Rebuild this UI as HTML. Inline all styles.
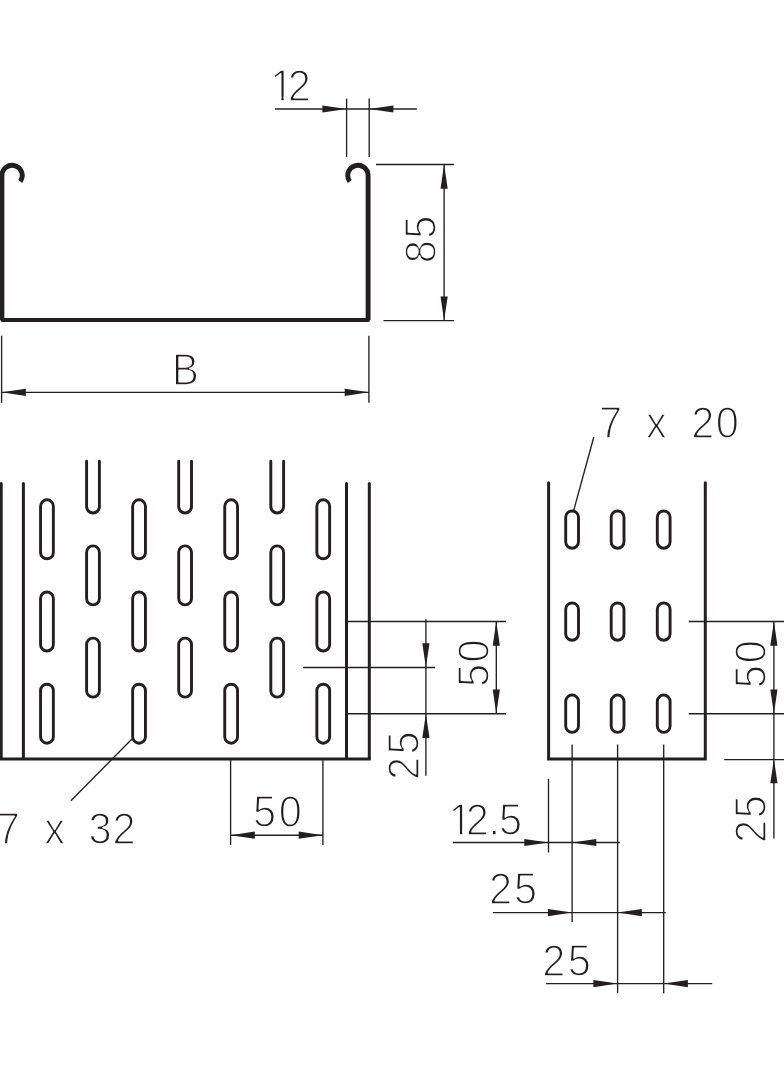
<!DOCTYPE html>
<html lang="en">
<head>
<meta charset="utf-8">
<title>Cable tray dimension drawing</title>
<style>
html,body{margin:0;padding:0;background:#fff;}
body{width:784px;height:1066px;overflow:hidden;}
svg{display:block;will-change:transform;}
svg line, svg path, svg rect{stroke:#231f20;fill:none;}
svg .f{fill:#231f20;stroke:none;}
svg .m{fill:#fff;stroke:none;}
svg text{font-family:"Liberation Sans",Arial,Helvetica,sans-serif;fill:#231f20;stroke:#fff;stroke-width:1.5px;stroke-linejoin:round;font-size:43.75px;}
</style>
</head>
<body>
<svg width="784" height="1066" viewBox="0 0 784 1066">
<path d="M2.4,320 H368.1" stroke-width="3.9" stroke-linecap="round"/>
<path d="M20.26,181.47 A10.15,10.15 0 1 0 1.9,175.5 V320" stroke-width="4.9" stroke-linecap="butt" stroke-linejoin="round"/>
<path d="M349.74,181.47 A10.15,10.15 0 1 1 368.1,175.5 V320" stroke-width="4.9" stroke-linecap="butt" stroke-linejoin="round"/>
<line x1="346.60" y1="98.60" x2="346.60" y2="156.90" stroke-width="1.35" stroke-linecap="butt"/>
<line x1="369.20" y1="98.60" x2="369.20" y2="156.90" stroke-width="1.35" stroke-linecap="butt"/>
<line x1="274.90" y1="109.00" x2="416.80" y2="109.00" stroke-width="1.35" stroke-linecap="butt"/>
<polygon class="f" points="346.60,109.00 322.40,112.60 322.40,105.40"/>
<polygon class="f" points="369.20,109.00 393.40,105.40 393.40,112.60"/>
<line x1="376.00" y1="164.50" x2="453.90" y2="164.50" stroke-width="1.35" stroke-linecap="butt"/>
<line x1="383.50" y1="320.60" x2="453.90" y2="320.60" stroke-width="1.35" stroke-linecap="butt"/>
<line x1="444.10" y1="164.50" x2="444.10" y2="320.60" stroke-width="1.35" stroke-linecap="butt"/>
<polygon class="f" points="444.10,164.50 447.70,188.70 440.50,188.70"/>
<polygon class="f" points="444.10,320.60 440.50,296.40 447.70,296.40"/>
<line x1="1.60" y1="335.70" x2="1.60" y2="402.80" stroke-width="1.35" stroke-linecap="butt"/>
<line x1="368.90" y1="335.70" x2="368.90" y2="402.80" stroke-width="1.35" stroke-linecap="butt"/>
<line x1="1.60" y1="392.30" x2="368.90" y2="392.30" stroke-width="1.35" stroke-linecap="butt"/>
<polygon class="f" points="1.60,392.30 25.80,388.70 25.80,395.90"/>
<polygon class="f" points="368.90,392.30 344.70,395.90 344.70,388.70"/>
<line x1="1.20" y1="483.50" x2="1.20" y2="758.00" stroke-width="3.0" stroke-linecap="round"/>
<line x1="23.40" y1="483.50" x2="23.40" y2="758.00" stroke-width="3.0" stroke-linecap="round"/>
<line x1="346.50" y1="483.50" x2="346.50" y2="758.00" stroke-width="3.0" stroke-linecap="round"/>
<line x1="369.30" y1="483.50" x2="369.30" y2="758.00" stroke-width="3.0" stroke-linecap="round"/>
<line x1="-2.00" y1="759.00" x2="370.80" y2="759.00" stroke-width="3.0" stroke-linecap="butt"/>
<rect x="40.55" y="499.80" width="12.8" height="59" rx="6.4" ry="6.4" stroke-width="2.9"/>
<rect x="40.55" y="592.00" width="12.8" height="59" rx="6.4" ry="6.4" stroke-width="2.9"/>
<rect x="40.55" y="684.20" width="12.8" height="59" rx="6.4" ry="6.4" stroke-width="2.9"/>
<rect x="86.60" y="545.90" width="12.8" height="59" rx="6.4" ry="6.4" stroke-width="2.9"/>
<rect x="86.60" y="638.10" width="12.8" height="59" rx="6.4" ry="6.4" stroke-width="2.9"/>
<path d="M86.60,461.2 V506.60 A6.4,6.4 0 0 0 99.40,506.60 V461.2" stroke-width="2.9" stroke-linecap="round"/>
<rect x="132.65" y="499.80" width="12.8" height="59" rx="6.4" ry="6.4" stroke-width="2.9"/>
<rect x="132.65" y="592.00" width="12.8" height="59" rx="6.4" ry="6.4" stroke-width="2.9"/>
<rect x="132.65" y="684.20" width="12.8" height="59" rx="6.4" ry="6.4" stroke-width="2.9"/>
<rect x="178.70" y="545.90" width="12.8" height="59" rx="6.4" ry="6.4" stroke-width="2.9"/>
<rect x="178.70" y="638.10" width="12.8" height="59" rx="6.4" ry="6.4" stroke-width="2.9"/>
<path d="M178.70,461.2 V506.60 A6.4,6.4 0 0 0 191.50,506.60 V461.2" stroke-width="2.9" stroke-linecap="round"/>
<rect x="224.75" y="499.80" width="12.8" height="59" rx="6.4" ry="6.4" stroke-width="2.9"/>
<rect x="224.75" y="592.00" width="12.8" height="59" rx="6.4" ry="6.4" stroke-width="2.9"/>
<rect x="224.75" y="684.20" width="12.8" height="59" rx="6.4" ry="6.4" stroke-width="2.9"/>
<rect x="270.80" y="545.90" width="12.8" height="59" rx="6.4" ry="6.4" stroke-width="2.9"/>
<rect x="270.80" y="638.10" width="12.8" height="59" rx="6.4" ry="6.4" stroke-width="2.9"/>
<path d="M270.80,461.2 V506.60 A6.4,6.4 0 0 0 283.60,506.60 V461.2" stroke-width="2.9" stroke-linecap="round"/>
<rect x="316.85" y="499.80" width="12.8" height="59" rx="6.4" ry="6.4" stroke-width="2.9"/>
<rect x="316.85" y="592.00" width="12.8" height="59" rx="6.4" ry="6.4" stroke-width="2.9"/>
<rect x="316.85" y="684.20" width="12.8" height="59" rx="6.4" ry="6.4" stroke-width="2.9"/>
<line x1="346.50" y1="621.50" x2="506.00" y2="621.50" stroke-width="1.35" stroke-linecap="butt"/>
<line x1="303.00" y1="667.50" x2="435.10" y2="667.50" stroke-width="1.35" stroke-linecap="butt"/>
<line x1="346.50" y1="713.70" x2="506.00" y2="713.70" stroke-width="1.35" stroke-linecap="butt"/>
<line x1="425.90" y1="619.30" x2="425.90" y2="775.70" stroke-width="1.35" stroke-linecap="butt"/>
<polygon class="f" points="425.90,667.50 422.30,643.30 429.50,643.30"/>
<polygon class="f" points="425.90,713.70 429.50,737.90 422.30,737.90"/>
<line x1="496.30" y1="621.50" x2="496.30" y2="713.70" stroke-width="1.35" stroke-linecap="butt"/>
<polygon class="f" points="496.30,621.50 499.90,645.70 492.70,645.70"/>
<polygon class="f" points="496.30,713.70 492.70,689.50 499.90,689.50"/>
<line x1="230.60" y1="759.00" x2="230.60" y2="844.90" stroke-width="1.35" stroke-linecap="butt"/>
<line x1="322.90" y1="759.00" x2="322.90" y2="844.90" stroke-width="1.35" stroke-linecap="butt"/>
<line x1="230.60" y1="835.20" x2="322.90" y2="835.20" stroke-width="1.35" stroke-linecap="butt"/>
<polygon class="f" points="230.60,835.20 254.80,831.60 254.80,838.80"/>
<polygon class="f" points="322.90,835.20 298.70,838.80 298.70,831.60"/>
<line x1="132.70" y1="738.20" x2="70.90" y2="800.70" stroke-width="1.35" stroke-linecap="butt"/>
<path d="M548.6,482.8 V759 H705.3 V482.8" stroke-width="3.0" stroke-linecap="round" stroke-linejoin="miter"/>
<rect x="565.70" y="510.95" width="12.8" height="37.3" rx="6.4" ry="6.4" stroke-width="2.9"/>
<rect x="565.70" y="602.95" width="12.8" height="37.3" rx="6.4" ry="6.4" stroke-width="2.9"/>
<rect x="565.70" y="695.05" width="12.8" height="37.3" rx="6.4" ry="6.4" stroke-width="2.9"/>
<line x1="572.10" y1="744.50" x2="572.10" y2="921.90" stroke-width="1.35" stroke-linecap="butt"/>
<rect x="611.20" y="510.95" width="12.8" height="37.3" rx="6.4" ry="6.4" stroke-width="2.9"/>
<rect x="611.20" y="602.95" width="12.8" height="37.3" rx="6.4" ry="6.4" stroke-width="2.9"/>
<rect x="611.20" y="695.05" width="12.8" height="37.3" rx="6.4" ry="6.4" stroke-width="2.9"/>
<line x1="617.60" y1="744.50" x2="617.60" y2="993.20" stroke-width="1.35" stroke-linecap="butt"/>
<rect x="657.30" y="510.95" width="12.8" height="37.3" rx="6.4" ry="6.4" stroke-width="2.9"/>
<rect x="657.30" y="602.95" width="12.8" height="37.3" rx="6.4" ry="6.4" stroke-width="2.9"/>
<rect x="657.30" y="695.05" width="12.8" height="37.3" rx="6.4" ry="6.4" stroke-width="2.9"/>
<line x1="663.70" y1="744.50" x2="663.70" y2="993.20" stroke-width="1.35" stroke-linecap="butt"/>
<line x1="548.50" y1="778.80" x2="548.50" y2="852.50" stroke-width="1.35" stroke-linecap="butt"/>
<line x1="688.70" y1="621.50" x2="784.00" y2="621.50" stroke-width="1.35" stroke-linecap="butt"/>
<line x1="688.70" y1="713.70" x2="784.00" y2="713.70" stroke-width="1.35" stroke-linecap="butt"/>
<line x1="724.20" y1="759.60" x2="784.00" y2="759.60" stroke-width="1.35" stroke-linecap="butt"/>
<line x1="773.90" y1="621.50" x2="773.90" y2="838.60" stroke-width="1.35" stroke-linecap="butt"/>
<polygon class="f" points="773.90,621.50 777.50,645.70 770.30,645.70"/>
<polygon class="f" points="773.90,713.70 770.30,689.50 777.50,689.50"/>
<polygon class="f" points="773.90,759.00 777.50,783.20 770.30,783.20"/>
<line x1="593.80" y1="437.00" x2="573.70" y2="510.50" stroke-width="1.35" stroke-linecap="butt"/>
<line x1="452.80" y1="842.50" x2="619.80" y2="842.50" stroke-width="1.35" stroke-linecap="butt"/>
<polygon class="f" points="548.50,842.50 524.30,846.10 524.30,838.90"/>
<polygon class="f" points="572.10,842.50 596.30,838.90 596.30,846.10"/>
<line x1="492.80" y1="912.60" x2="665.70" y2="912.60" stroke-width="1.35" stroke-linecap="butt"/>
<polygon class="f" points="572.10,912.60 547.90,916.20 547.90,909.00"/>
<polygon class="f" points="617.60,912.60 641.80,909.00 641.80,916.20"/>
<line x1="545.90" y1="983.60" x2="712.20" y2="983.60" stroke-width="1.35" stroke-linecap="butt"/>
<polygon class="f" points="617.60,983.60 593.40,987.20 593.40,980.00"/>
<polygon class="f" points="663.70,983.60 687.90,980.00 687.90,987.20"/>
<text transform="scale(0.95 1)" x="284.41 302.94" y="101.10">12</text>
<rect class="m" x="271.86" y="96.63" width="9.50" height="5.67"/>
<rect class="m" x="283.60" y="96.63" width="6.90" height="5.67"/>
<text transform="translate(176.10 384.8) scale(0.92 1)" x="-4.34" y="0">B</text>
<text transform="translate(435.90 0) rotate(-90) scale(0.95 1)" x="-277.07 -251.34" y="0">85</text>
<text transform="scale(0.95 1)" x="-3.52 30.83 46.55 78.20 93.27 118.52" y="843.80">7 x 32</text>
<text transform="scale(0.95 1)" x="266.45 293.54" y="827.30">50</text>
<text transform="translate(488.70 0) rotate(-90) scale(0.95 1)" x="-723.24 -697.41" y="0">50</text>
<text transform="translate(418.50 0) rotate(-90) scale(0.95 1)" x="-821.16 -794.29" y="0">25</text>
<text transform="scale(0.95 1)" x="630.48 664.51 680.13 712.93 727.68 753.54" y="438.10">7 x 20</text>
<text transform="translate(766.40 0) rotate(-90) scale(0.95 1)" x="-724.50 -698.25" y="0">50</text>
<text transform="translate(766.40 0) rotate(-90) scale(0.95 1)" x="-887.37 -861.34" y="0">25</text>
<text transform="scale(0.95 1)" x="472.41 490.21 514.20 525.39" y="835.10">12.5</text>
<rect class="m" x="450.46" y="830.63" width="9.50" height="5.67"/>
<rect class="m" x="462.20" y="830.63" width="6.20" height="5.67"/>
<text transform="scale(0.95 1)" x="514.73 541.18" y="904.40">25</text>
<text transform="scale(0.95 1)" x="570.84 597.60" y="975.90">25</text>
</svg>
</body>
</html>
